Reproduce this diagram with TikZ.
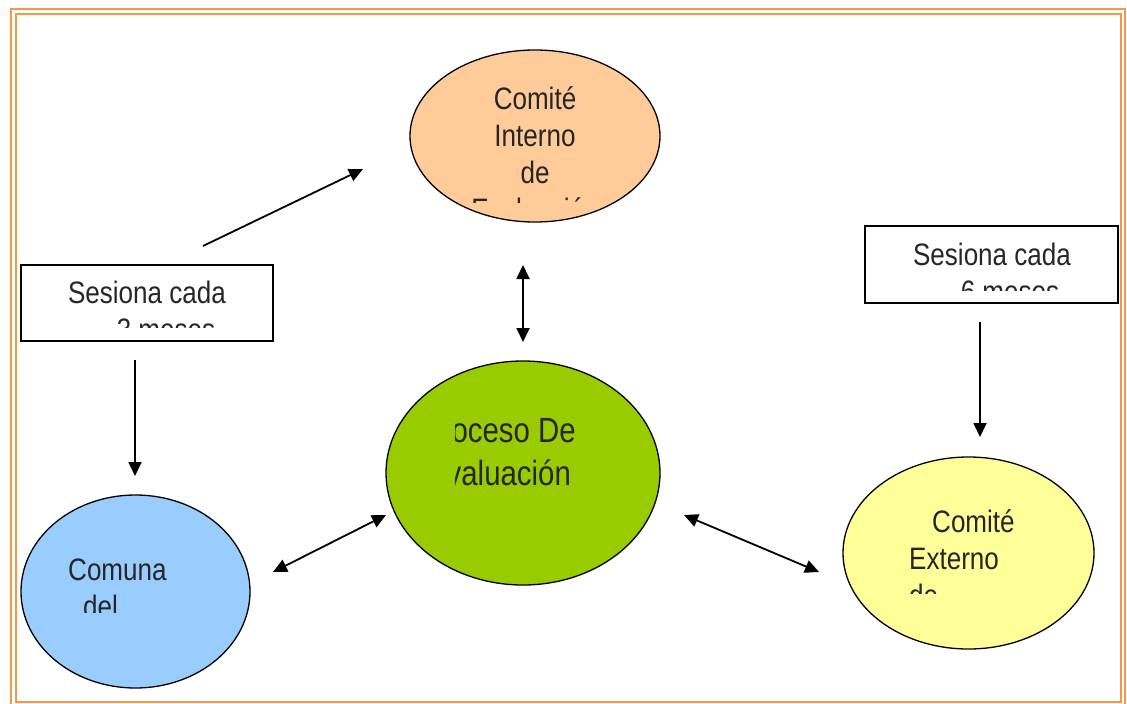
\documentclass[tikz,border=0pt]{standalone}
\usepackage{fontspec}
\setmainfont{Liberation Sans}
\newfontfamily\estrecha{Liberation Sans}[FakeStretch=0.84]
\usepackage{tikz}
\usetikzlibrary{arrows.meta,shapes.geometric,positioning}
\definecolor{marcoNaranja}{RGB}{247,150,70}
\definecolor{cieColor}    {RGB}{255,204,153}
\definecolor{procColor}   {RGB}{153,204,0}
\definecolor{comColor}    {RGB}{153,204,255}
\definecolor{ceeColor}    {RGB}{255,255,153}
\definecolor{textoGris}   {RGB}{38,38,38}

\tikzset{
  ovalo/.style={draw=black,line width=1.3pt,ellipse,inner sep=0pt},
  caja/.style={draw=black,line width=1.5pt,rectangle,inner sep=0pt},
  texto/.style={font=\estrecha\fontsize{31}{37}\selectfont,textoGris,inner sep=0pt,anchor=base},
  flecha/.style={-{Triangle[length=14pt,width=13pt]},line width=1.8pt},
  dobleflecha/.style={{Triangle[length=14pt,width=13pt]}-{Triangle[length=14pt,width=13pt]},line width=1.8pt}
}

\begin{document}
\begin{tikzpicture}[x=1pt,y=-1pt]
    \useasboundingbox (0,0) rectangle (1127,704);

    % ── MARCO ─────────────────────────────────────────────
    \draw[marcoNaranja,line width=2.8pt] (11,9) rectangle (1125,706);
    \draw[marcoNaranja,line width=2.8pt] (16,14) rectangle (1121,702);

    % ── COMITÉ INTERNO ────────────────────────────────────
    \node[ovalo,fill=cieColor,minimum width=250pt,minimum height=172pt] (cie) at (535,136){};
    \begin{scope}
      \clip (410,40) rectangle (660,202);
      \node[texto,align=center] (cieTxt) at (535,220){
        Comité\\Interno\\de\\Evaluación
      };
    \end{scope}

    % ── PROCESO DE EVALUACIÓN ─────────────────────────────
    \node[ovalo,fill=procColor,minimum width=274pt,minimum height=224pt] (proc) at (523,473){};
    \begin{scope}
      \clip (455,380) rectangle (660,560);
      \node[texto,align=center,font=\estrecha\fontsize{35}{43}\selectfont] (procTxt) at (499,485){
        Proceso De\\Evaluación
      };
    \end{scope}

    % ── SESIONA CADA 3 MESES ──────────────────────────────
    \node[caja,minimum width=252pt,minimum height=76pt] (sesion3) at (147,303){};
    \begin{scope}
      \clip (21,265) rectangle (273,327);
      \node[texto,align=center] (sesion3Txt) at (147,340){
        Sesiona cada\\\hspace*{38pt}3 meses
      };
    \end{scope}

    % ── SESIONA CADA 6 MESES ──────────────────────────────
    \node[caja,minimum width=253pt,minimum height=77pt] (sesion6) at (991.5,264.5){};
    \begin{scope}
      \clip (865,226) rectangle (1118,290);
      \node[texto,align=center] (sesion6Txt) at (992,302){
        Sesiona cada\\\hspace*{36pt}6 meses
      };
    \end{scope}

    % ── COMUNA ────────────────────────────────────────────
    \node[ovalo,fill=comColor,minimum width=229pt,minimum height=193pt] (com) at (135.5,591.5){};
    \begin{scope}
      \clip (21,495) rectangle (250,612);
      \node[texto,align=left,anchor=base west] (comTxt) at (68,617){
        Comuna\\\hspace*{15pt}del
      };
    \end{scope}

    % ── COMITÉ EXTERNO ────────────────────────────────────
    \node[ovalo,fill=ceeColor,minimum width=251pt,minimum height=192pt] (cee) at (968.5,553){};
    \begin{scope}
      \clip (843,457) rectangle (1094,593);
      \node[texto,align=left,anchor=base west] (ceeTxt) at (909,606){
        \hspace*{23pt}Comité\\Externo\\de
      };
    \end{scope}

    % ── FLECHAS ───────────────────────────────────────────
    \coordinate (s3Sale)  at (203,246);
    \coordinate (cieLlega) at (363,169);
    \coordinate (cieAbajo) at (523,265);
    \coordinate (procArriba) at (523,342);
    \coordinate (s3Baja)  at (135,360);
    \coordinate (comLlega) at (135,476);
    \coordinate (s6Baja)  at (980,322);
    \coordinate (ceeLlega) at (980,437);
    \coordinate (comDer)  at (273,572);
    \coordinate (procIzq) at (386,515);
    \coordinate (procDer) at (684,515);
    \coordinate (ceeIzq)  at (819,572);

    \draw[flecha] (s3Sale) -- (cieLlega);
    \draw[dobleflecha] (cieAbajo) -- (procArriba);
    \draw[flecha] (s3Baja) -- (comLlega);
    \draw[flecha] (s6Baja) -- (ceeLlega);
    \draw[dobleflecha] (comDer) -- (procIzq);
    \draw[dobleflecha] (procDer) -- (ceeIzq);

  \end{tikzpicture}
\end{document}
